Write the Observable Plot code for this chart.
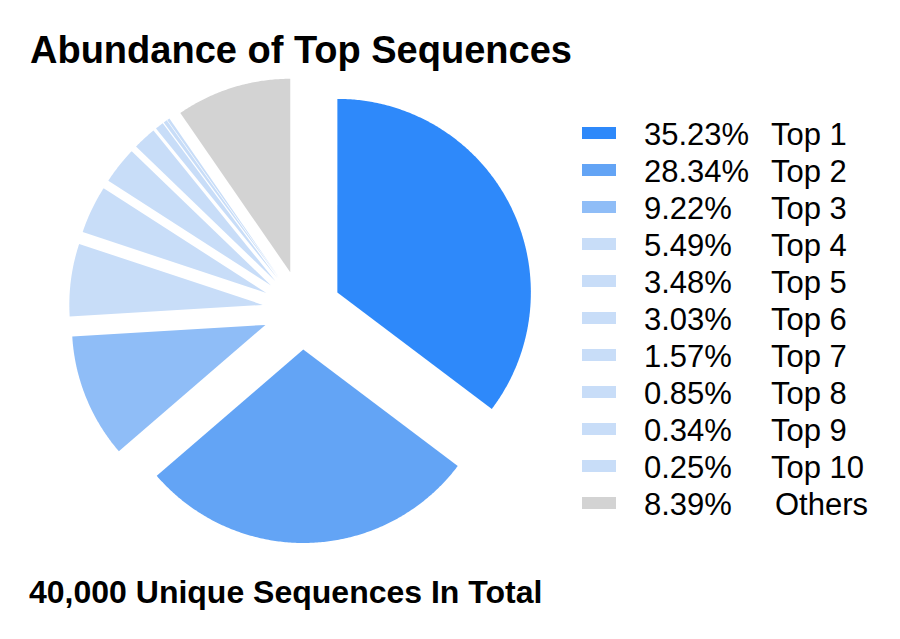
<!DOCTYPE html>
<html>
<head>
<meta charset="utf-8">
<script src="https://cdn.jsdelivr.net/npm/d3@7"></script>
<script src="https://cdn.jsdelivr.net/npm/@observablehq/plot@0.6"></script>
<style>
  html, body { margin: 0; padding: 0; background: #fff; }
  #page { position: relative; width: 900px; height: 639px; overflow: hidden; font-family: "Liberation Sans", Arial, sans-serif; color: #000; }
  #title { position: absolute; left: 30px; top: 31px; font-size: 38px; font-weight: bold; line-height: 1; white-space: nowrap; }
  #footer { position: absolute; left: 29px; top: 576px; font-size: 32px; font-weight: bold; line-height: 1; white-space: nowrap; }
  #chart { position: absolute; left: 0; top: 70px; }
  #legend { position: absolute; left: 0; top: 0; }
  .row { position: absolute; left: 582px; height: 31px; font-size: 31px; line-height: 1; white-space: nowrap; }
  .sw { position: absolute; left: 0; width: 34px; height: 12px; }
  .pct { position: absolute; left: 62px; }
  .lab { position: absolute; left: 189px; }
</style>
</head>
<body>
<div id="page">
  <div id="title">Abundance of Top Sequences</div>
  <div id="chart"></div>
  <div id="legend"></div>
  <div id="footer">40,000 Unique Sequences In Total</div>
</div>
<script>
// ---- data ----
const categories = ["Top 1", "Top 2", "Top 3", "Top 4", "Top 5", "Top 6", "Top 7", "Top 8", "Top 9", "Top 10", "Others"];
const legendPct = [35.23, 28.34, 9.22, 5.49, 3.48, 3.03, 1.57, 0.85, 0.34, 0.25, 8.39];
// slice sizes as drawn in the picture (share of the full circle, %)
const sliceShare = [35.23, 28.34, 10.35, 6.05, 4.0, 3.1, 1.95, 0.7, 0.3, 0.22, 9.6];
const colors = ["#2e89fa", "#63a4f5", "#8fbdf7", "#c8ddf8", "#c8ddf8", "#c8ddf8", "#c8ddf8", "#c8ddf8", "#c8ddf8", "#c8ddf8", "#d3d3d3"];

// ---- layout ----
const W = 900, H = 490;
const cx = 301.5, cy = 239.5, R = 193.5, explode = 39.5;

const arcs = d3.pie().sort(null).value(d => d)(sliceShare);
const slices = arcs.map((a, i) => {
  const mid = (a.startAngle + a.endAngle) / 2;
  const ox = cx + explode * Math.sin(mid);
  const oy = cy - explode * Math.cos(mid);
  const pts = [{x: ox, y: oy}];
  const n = Math.max(2, Math.ceil((a.endAngle - a.startAngle) / (Math.PI / 360)));
  for (let k = 0; k <= n; k++) {
    const t = a.startAngle + (a.endAngle - a.startAngle) * k / n;
    pts.push({x: ox + R * Math.sin(t), y: oy - R * Math.cos(t)});
  }
  return {key: categories[i], color: colors[i], pts};
});

const chart = Plot.plot({
  width: W,
  height: H,
  margin: 0,
  x: {domain: [0, W], range: [0, W], axis: null},
  y: {domain: [0, H], range: [0, H], axis: null},
  marks: slices.map(s => Plot.line(s.pts, {x: "x", y: "y", fill: s.color, stroke: "none", curve: "linear-closed"}))
});
document.getElementById("chart").appendChild(chart);

// ---- legend ----
const FS = 31;
const legend = document.getElementById("legend");
categories.forEach((c, i) => {
  const baseline = 145 + i * 37;
  const top = baseline - 0.8465 * FS;
  const row = document.createElement("div");
  row.className = "row";
  row.style.top = top + "px";
  const sw = document.createElement("div");
  sw.className = "sw";
  sw.style.background = colors[i];
  sw.style.top = (baseline - 18 - top) + "px";
  const p = document.createElement("div");
  p.className = "pct";
  p.textContent = legendPct[i].toFixed(2) + "%";
  const l = document.createElement("div");
  l.className = "lab";
  l.textContent = c;
  if (c === "Others") l.style.left = "193px";
  row.appendChild(sw); row.appendChild(p); row.appendChild(l);
  legend.appendChild(row);
});
</script>
</body>
</html>
